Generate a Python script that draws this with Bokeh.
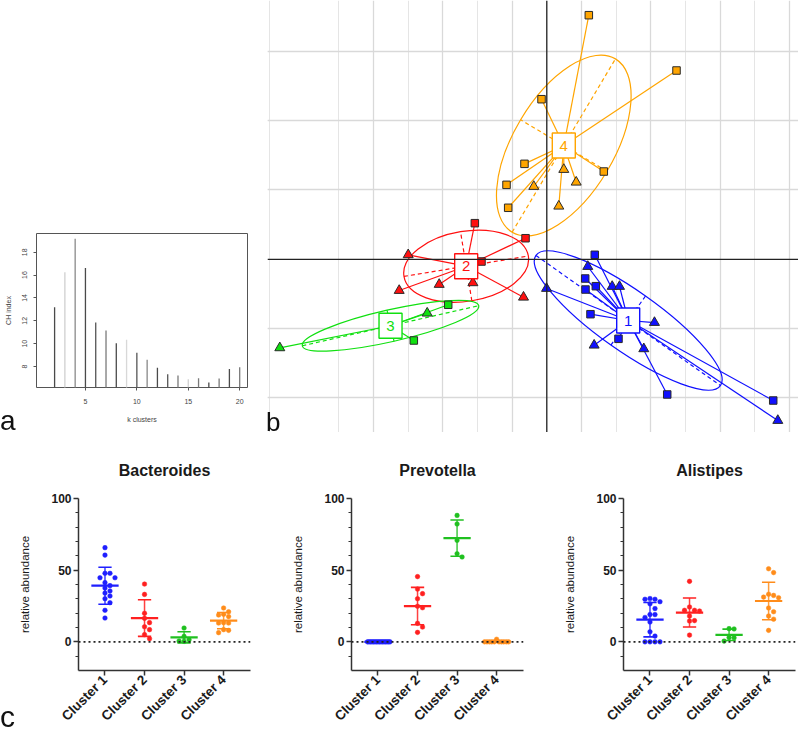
import math
import numpy as np
from bokeh.plotting import figure
from bokeh.models import FixedTicker, Grid, Span, Div
from bokeh.layouts import row, column
from bokeh.embed import file_html
from bokeh.resources import INLINE
from bokeh.core.properties import value

FONT = "Liberation Sans"

# ---------------- panel a : CH index ----------------
k_clusters = [2, 3, 4, 5, 6, 7, 8, 9, 10, 11, 12, 13, 14, 15, 16, 17, 18, 19, 20]
ch_index = [13.19, 16.25, 19.17, 16.63, 11.85, 11.15, 10.04, 10.33, 9.20, 8.58,
            7.88, 7.33, 7.21, 6.89, 6.98, 6.60, 6.95, 7.77, 7.94]
ch_xticks = [5, 10, 15, 20]
ch_yticks = [8, 10, 12, 14, 16, 18]
ch_bar_shades = ["#4a4a4a", "#d0d0d0", "#8a8a8a", "#4a4a4a", "#555555", "#7a7a7a",
                 "#4a4a4a", "#d8d8d8", "#555555", "#888888", "#4a4a4a", "#555555",
                 "#7a7a7a", "#d0d0d0", "#7a7a7a", "#4a4a4a", "#7a7a7a", "#4a4a4a", "#7a7a7a"]

# ---------------- panel b : ordination ----------------
pc_x = [0.692, 0.554, 0.707, 0.558, 0.630, 1.034, 1.737, 3.266,
        0.591, -0.004, 0.943, 1.049, 1.553, 0.683, 1.399, 3.332,
        -1.038, -0.307, -0.942,
        -1.999, -2.129, -1.552, -1.066, -0.336,
        -1.422, -1.918,
        -1.725, -3.851,
        0.606, 1.871, -0.076, -0.322, -0.581, -0.557, 0.822,
        0.245, 0.424, -0.188, 0.173]
pc_y = [0.065, -0.277, -0.388, -0.436, -0.792, -1.147, -1.950, -2.037,
        -0.104, -0.421, -0.392, -0.392, -0.912, -1.239, -1.291, -2.325,
        0.521, 0.304, -0.032,
        0.065, -0.450, -0.363, -0.339, -0.547,
        -0.656, -1.171,
        -0.777, -1.277,
        3.521, 2.723, 2.309, 1.377, 1.074, 0.743, 1.266,
        1.295, 1.112, 1.050, 0.766]
pc_cluster = [0, 0, 0, 0, 0, 0, 0, 0, 0, 0, 0, 0, 0, 0, 0, 0,
              1, 1, 1, 1, 1, 1, 1, 1,
              2, 2, 2, 2,
              3, 3, 3, 3, 3, 3, 3, 3, 3, 3, 3]
pc_shape = ["square", "square", "square", "square", "square", "square", "square", "square",
            "triangle", "triangle", "triangle", "triangle", "triangle", "triangle", "triangle", "triangle",
            "square", "square", "square",
            "triangle", "triangle", "triangle", "triangle", "triangle",
            "square", "square",
            "triangle", "triangle",
            "square", "square", "square", "square", "square", "square", "square",
            "triangle", "triangle", "triangle", "triangle"]
cl_names = ["1", "2", "3", "4"]
cl_cx = [1.174, -1.163, -2.254, 0.245]
cl_cy = [-0.883, -0.0995, -0.958, 1.641]
ell_major = [1.628, 0.909, 1.305, 1.455]
ell_minor = [0.433, 0.505, 0.230, 0.725]
ell_angle_deg = [-35.2, 9.3, 12.8, 59.2]
grid_x = [-2.5, -1.5, -0.5, 0.5, 1.5, 2.5, 3.5]
grid_y = [-2, -1, 1, 2, 3]

# ---------------- panel c : relative abundance ----------------
categories = ["Cluster 1", "Cluster 2", "Cluster 3", "Cluster 4"]
bacteroides_c1 = [65.7, 60.5, 47.8, 47.8, 44.7, 44.7, 41.3, 39.2, 37.5, 35.5, 34.0, 32.0, 30.1, 27.3, 22.0, 16.6]
bacteroides_c2 = [40.3, 33.1, 19.9, 16.4, 13.4, 10.5, 8.5, 5.0, 2.2]
bacteroides_c3 = [9.6, 3.8, 1.5, 0.6, 0.3]
bacteroides_c4 = [23.6, 21.0, 19.2, 18.7, 17.6, 13.4, 13.1, 13.1, 8.5, 8.0, 6.4]
prevotella_c1 = [0, 0, 0, 0, 0, 0, 0, 0, 0, 0, 0, 0, 0, 0, 0, 0]
prevotella_c2 = [45.5, 36.8, 33.6, 30.1, 24.8, 23.8, 12.9, 10.3, 6.6]
prevotella_c3 = [88.2, 82.2, 70.8, 61.5, 59.2]
prevotella_c4 = [1.8, 0, 0, 0, 0, 0, 0, 0, 0, 0, 0]
alistipes_c1 = [30.2, 29.7, 29.7, 28.0, 26.5, 23.2, 19.0, 19.0, 17.0, 13.8, 7.0, 4.0, 0, 0, 0, 0]
alistipes_c2 = [42.2, 24.3, 22.0, 22.0, 21.5, 18.0, 14.8, 14.5, 4.7]
alistipes_c3 = [9.2, 9.0, 3.0, 2.8, 0.5]
alistipes_c4 = [51.0, 48.3, 33.2, 32.4, 31.2, 30.8, 23.6, 21.0, 18.0, 15.8, 8.0]
c_yticks = [0, 50, 100]
c_yminor = [-10, 10, 20, 30, 40, 60, 70, 80, 90]

B_COLORS = ["#1010ff", "#ff1010", "#10e010", "#ffa500"]
C_COLORS = ["#1f1fff", "#ff2020", "#20c020", "#ff8c1a"]

# =============== panel a figure ===============
TOP_H = 432
A_W = 267
A_BL, A_BR, A_BT, A_BB = 36, 20, 233, 45
A_XR = (0.24, 20.76)
A_YR = (6.16, 19.64)
pa = figure(width=A_W, height=TOP_H, x_range=A_XR, y_range=A_YR,
            min_border_left=A_BL, min_border_right=A_BR,
            min_border_top=A_BT, min_border_bottom=A_BB,
            output_backend="svg", toolbar_location=None)
pa.frame_align = False
pa.segment(x0=k_clusters, y0=[0] * len(k_clusters), x1=k_clusters, y1=ch_index,
           line_color=ch_bar_shades, line_width=1.3)
pa.grid.visible = False
pa.outline_line_color = "#555555"
pa.outline_line_width = 1
pa.xaxis.ticker = FixedTicker(ticks=ch_xticks)
pa.yaxis.ticker = FixedTicker(ticks=ch_yticks)
for ax in (pa.xaxis[0], pa.yaxis[0]):
    ax.axis_line_color = None
    ax.major_tick_line_color = "#555555"
    ax.major_tick_out = 3
    ax.major_tick_in = 0
    ax.minor_tick_line_color = None
    ax.major_label_text_font = FONT
    ax.major_label_text_font_size = "7px"
    ax.major_label_text_color = "#444444"
    ax.axis_label_text_font = FONT
    ax.axis_label_text_font_size = "7px"
    ax.axis_label_text_font_style = "normal"
    ax.axis_label_text_color = "#444444"
pa.xaxis.axis_label = "k clusters"
pa.yaxis.axis_label = "CH index"
pa.xaxis.major_label_standoff = 8
pa.xaxis.axis_label_standoff = 9
pa.yaxis.major_label_orientation = "vertical"
pa.yaxis.major_label_standoff = 6
pa.yaxis.axis_label_standoff = 8

# =============== panel b figure ===============
B_L, B_R = 267, 798
OX, OY, UNIT = 546.3, 258.8, 69.33
B_XR = ((B_L - OX) / UNIT, (B_R - OX) / UNIT)
B_YR = ((OY - TOP_H) / UNIT, OY / UNIT)
pb = figure(width=B_R - B_L, height=TOP_H, x_range=B_XR, y_range=B_YR,
            min_border=0, x_axis_location=None, y_axis_location=None,
            output_backend="svg", toolbar_location=None)
pb.frame_align = False
pb.outline_line_color = None
pb.add_layout(Grid(dimension=0, ticker=FixedTicker(ticks=grid_x),
                   grid_line_color="#d9d9d9", grid_line_width=1.3))
pb.add_layout(Grid(dimension=1, ticker=FixedTicker(ticks=grid_y),
                   grid_line_color="#d9d9d9", grid_line_width=1.3))
pb.add_layout(Span(location=0, dimension="width", line_color="#222222", line_width=1.3))
pb.add_layout(Span(location=0, dimension="height", line_color="#222222", line_width=1.3))

ang = [math.radians(a) for a in ell_angle_deg]
pb.ellipse(x=cl_cx, y=cl_cy, width=[2 * a for a in ell_major], height=[2 * b for b in ell_minor],
           angle=ang, fill_color=None, line_color=B_COLORS, line_width=1.2)
dx0, dy0, dx1, dy1, dcol = [], [], [], [], []
for i in range(4):
    ca, sa = math.cos(ang[i]), math.sin(ang[i])
    a, b = ell_major[i], ell_minor[i]
    dx0 += [cl_cx[i] - a * ca, cl_cx[i] + b * sa]
    dy0 += [cl_cy[i] - a * sa, cl_cy[i] - b * ca]
    dx1 += [cl_cx[i] + a * ca, cl_cx[i] - b * sa]
    dy1 += [cl_cy[i] + a * sa, cl_cy[i] + b * ca]
    dcol += [B_COLORS[i], B_COLORS[i]]
pb.segment(x0=dx0, y0=dy0, x1=dx1, y1=dy1, line_color=dcol, line_width=1.2, line_dash="4 3")
pb.segment(x0=[cl_cx[c] for c in pc_cluster], y0=[cl_cy[c] for c in pc_cluster],
           x1=pc_x, y1=pc_y, line_color=[B_COLORS[c] for c in pc_cluster], line_width=1.2)
for shape, sz in (("square", 7.5), ("triangle", 10)):
    idx = [i for i, s in enumerate(pc_shape) if s == shape]
    pb.scatter(x=[pc_x[i] for i in idx], y=[pc_y[i] for i in idx], marker=shape, size=sz,
               fill_color=[B_COLORS[pc_cluster[i]] for i in idx],
               line_color="#2a2a2a", line_width=1)
pb.rect(x=cl_cx, y=cl_cy, width=23, height=25, width_units="screen", height_units="screen",
        fill_color="white", line_color=B_COLORS, line_width=1.4)
pb.text(x=cl_cx, y=cl_cy, text=cl_names, text_align="center", text_baseline="middle",
        text_font=value(FONT), text_font_size="15px", text_color=B_COLORS)

# =============== panel c figures ===============
C_H, C_BT, C_BB = 300, 66, 62
C_FH = C_H - C_BT - C_BB
C_YR = (-20, 100)
C_XR = (0.33, 4.68)
C_PPX = 172 / (C_XR[1] - C_XR[0])
C_PPY = C_FH / (C_YR[1] - C_YR[0])
DOT_PX = 5.0
MAX_HALF_PX = 12.0


def swarm(vals):
    placed = []
    offs = []
    for v in vals:
        y = v * C_PPY
        k_order = [0]
        for k in range(1, 40):
            k_order += [k, -k]
        for k in k_order:
            x = k * DOT_PX
            if all((x - px) ** 2 + (y - py) ** 2 >= (DOT_PX * 0.95) ** 2 for px, py in placed):
                break
        placed.append((x, y))
        offs.append(x)
    m = max(abs(o) for o in offs) if offs else 0
    if m > MAX_HALF_PX:
        offs = [o * MAX_HALF_PX / m for o in offs]
    return [o / C_PPX for o in offs]


def make_c(title, groups, width, bl):
    br = width - bl - 172
    p = figure(width=width, height=C_H, x_range=C_XR, y_range=C_YR,
               min_border_left=bl, min_border_right=br, min_border_top=C_BT,
               min_border_bottom=C_BB, output_backend="svg", toolbar_location=None)
    p.frame_align = False
    p.outline_line_color = None
    p.grid.visible = False
    p.title.text = title
    p.title.align = "center"
    p.title.text_font = FONT
    p.title.text_font_size = "16px"
    p.title.text_font_style = "bold"
    p.title.text_color = "#1a1a1a"
    p.title.standoff = 39
    p.add_layout(Span(location=0, dimension="width", line_color="#222222",
                      line_width=1.6, line_dash="2 3"))
    for i, vals in enumerate(groups):
        xc = i + 1
        offs = swarm(vals)
        p.scatter(x=[xc + o for o in offs], y=vals, size=4.6, fill_color=C_COLORS[i],
                  line_color=C_COLORS[i], line_width=0.5)
        arr = np.array(vals, dtype=float)
        mean = float(arr.mean())
        sd = float(arr.std(ddof=1))
        p.segment(x0=[xc], y0=[mean - sd], x1=[xc], y1=[mean + sd],
                  line_color=C_COLORS[i], line_width=1.5, line_alpha=0.85)
        p.segment(x0=[xc - 0.168, xc - 0.168], y0=[mean - sd, mean + sd],
                  x1=[xc + 0.168, xc + 0.168], y1=[mean - sd, mean + sd],
                  line_color=C_COLORS[i], line_width=1.6)
        p.segment(x0=[xc - 0.345], y0=[mean], x1=[xc + 0.345], y1=[mean],
                  line_color=C_COLORS[i], line_width=2.2)
    p.yaxis.ticker = FixedTicker(ticks=c_yticks, minor_ticks=c_yminor)
    p.xaxis.ticker = FixedTicker(ticks=[1, 2, 3, 4])
    p.xaxis.major_label_overrides = {i + 1: c for i, c in enumerate(categories)}
    p.xaxis.major_label_orientation = math.pi / 4
    for ax in (p.xaxis[0], p.yaxis[0]):
        ax.axis_line_color = "#333333"
        ax.axis_line_width = 1.5
        ax.major_tick_line_color = "#333333"
        ax.major_tick_line_width = 1.5
        ax.major_tick_in = 0
        ax.major_tick_out = 5
        ax.major_label_text_font = FONT
        ax.major_label_text_font_style = "bold"
        ax.major_label_text_color = "#1a1a1a"
    p.yaxis.minor_tick_line_color = "#333333"
    p.yaxis.minor_tick_line_width = 1.2
    p.yaxis.minor_tick_in = 0
    p.yaxis.minor_tick_out = 3
    p.xaxis.minor_tick_line_color = None
    p.yaxis.major_label_text_font_size = "12px"
    p.xaxis.major_label_text_font_size = "13.5px"
    p.yaxis.major_label_standoff = 2
    p.xaxis.major_label_standoff = 2
    p.yaxis.axis_label = "relative abundance"
    p.yaxis.axis_label_text_font = FONT
    p.yaxis.axis_label_text_font_size = "11.5px"
    p.yaxis.axis_label_text_font_style = "normal"
    p.yaxis.axis_label_text_color = "#1a1a1a"
    p.yaxis.axis_label_standoff = 17
    return p


c1 = make_c("Bacteroides", [bacteroides_c1, bacteroides_c2, bacteroides_c3, bacteroides_c4], 275, 78)
c2 = make_c("Prevotella", [prevotella_c1, prevotella_c2, prevotella_c3, prevotella_c4], 270, 76)
c3 = make_c("Alistipes", [alistipes_c1, alistipes_c2, alistipes_c3, alistipes_c4], 253, 78)


def panel_letter(txt, left, baseline, size):
    top = baseline - 0.8465 * size
    return Div(text=txt, width=0, height=0,
               styles={"position": "fixed", "left": f"{left}px", "top": f"{top:.1f}px",
                       "font-family": FONT, "font-size": f"{size}px", "line-height": "1",
                       "color": "#111111", "margin": "0", "padding": "0", "z-index": "10"})


letter_a = panel_letter("a", 0, 431, 28)
letter_b = panel_letter("b", 266, 431, 26)
letter_c = panel_letter("c", 0, 727, 30)

layout = column(row(pa, pb), row(c1, c2, c3), letter_a, letter_b, letter_c)
open("out.html", "w").write(file_html(layout, INLINE))
